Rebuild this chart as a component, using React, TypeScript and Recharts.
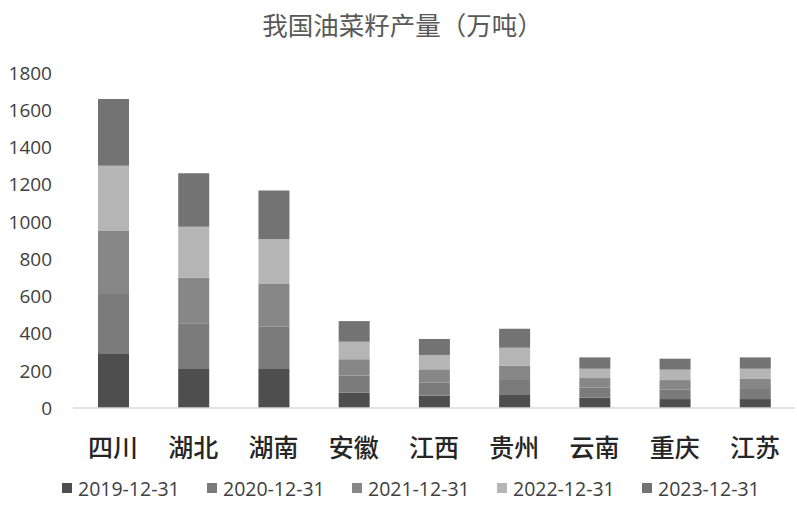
import React from "react";
import { BarChart, Bar, XAxis, YAxis } from "recharts";

const provinces = ["四川", "湖北", "湖南", "安徽", "江西", "贵州", "云南", "重庆", "江苏"];
const y2019 = [294, 209, 209, 82, 66, 74, 55, 48, 48];
const y2020 = [318, 246, 228, 92, 70, 76, 54, 52, 54];
const y2021 = [339, 245, 229, 88, 72, 79, 52, 50, 54];
const y2022 = [351, 274, 242, 94, 77, 95, 50, 56, 55];
const y2023 = [358, 287, 260, 111, 86, 102, 61, 59, 61];
const yTicks = [0, 200, 400, 600, 800, 1000, 1200, 1400, 1600, 1800];

const seriesNames = ["2019-12-31", "2020-12-31", "2021-12-31", "2022-12-31", "2023-12-31"];
const seriesValues = [y2019, y2020, y2021, y2022, y2023];
const seriesColors = ["#4e4e4e", "#7b7b7b", "#878787", "#b5b5b5", "#737373"];

const data = provinces.map((p, i) => {
  const row: Record<string, string | number> = { name: p };
  seriesNames.forEach((s, k) => {
    row[s] = seriesValues[k][i];
  });
  return row;
});

const W = 797;
const H = 505;

export default function App() {
  return (
    <div style={{ position: "absolute", left: 0, top: 0, width: W, height: H, background: "#fff", fontFamily: "'Open Sans', sans-serif" }}>
      <div
        style={{
          position: "absolute",
          left: 0,
          top: 6,
          width: W,
          textAlign: "center",
          fontFamily: "'Noto Sans CJK SC', sans-serif",
          fontSize: 25.5,
          lineHeight: "36px",
          color: "#595959",
          paddingLeft: 4,
        }}
      >
        我国油菜籽产量（万吨）
      </div>
      <BarChart width={W} height={H} data={data} margin={{ top: 73, right: 2, left: 0, bottom: 40 }} barSize={31}>
        <XAxis
          dataKey="name"
          height={57}
          tickLine={false}
          tickSize={0}
          tickMargin={31}
          axisLine={{ stroke: "#d9d9d9", strokeWidth: 1.5 }}
          tick={{ fontFamily: "'Noto Sans CJK SC', sans-serif", fontSize: 25, fill: "#262626", fontWeight: 500 }}
          interval={0}
        />
        <YAxis
          width={73}
          domain={[0, 1800]}
          ticks={yTicks}
          axisLine={false}
          tickLine={false}
          tickSize={0}
          tickMargin={21}
          tick={{ fontFamily: "'Open Sans', sans-serif", fontSize: 19, fill: "#404040" }}
          interval={0}
        />
        {seriesNames.map((s, k) => (
          <Bar key={s} dataKey={s} stackId="a" fill={seriesColors[k]} isAnimationActive={false} />
        ))}
      </BarChart>
      <div style={{ position: "absolute", left: 62, top: 476, height: 24, display: "flex", alignItems: "center" }}>
        {seriesNames.map((s, k) => (
          <div key={s} style={{ display: "flex", alignItems: "center", width: 145 }}>
            <span style={{ display: "inline-block", width: 10, height: 10, background: seriesColors[k], marginRight: 6 }} />
            <span style={{ fontSize: 19.5, color: "#404040", fontFamily: "'Open Sans', sans-serif" }}>{s}</span>
          </div>
        ))}
      </div>
    </div>
  );
}
